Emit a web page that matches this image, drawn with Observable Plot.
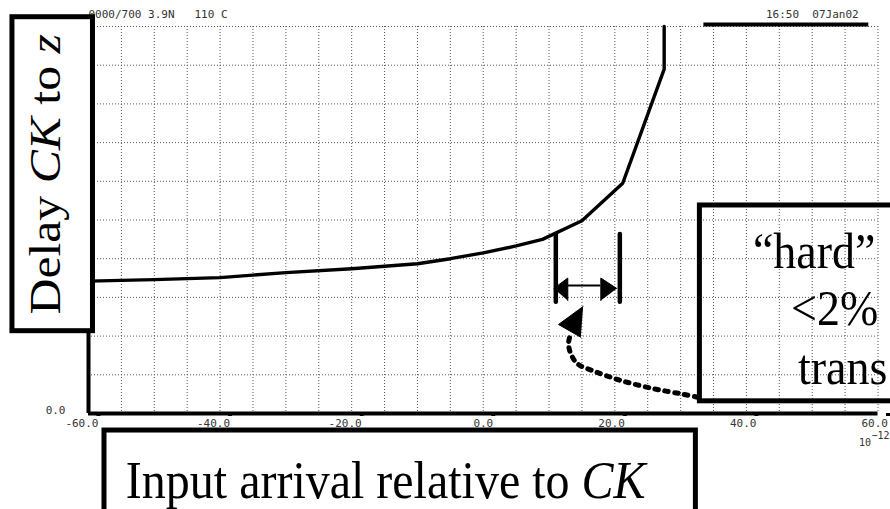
<!DOCTYPE html>
<html><head><meta charset="utf-8">
<script src="https://cdn.jsdelivr.net/npm/d3@7"></script>
<script src="https://cdn.jsdelivr.net/npm/@observablehq/plot@0.6"></script>
<style>
html,body{margin:0;padding:0;background:#fff;overflow:hidden}
svg text{white-space:pre}
</style>
</head><body><div id="chart"></div>
<script>
// ---- data (x in 10^-12 s, y in grid divisions) ----
const arrival = [-60, -50, -40, -30, -20, -10, -5, 0, 5, 9, 15, 21.2, 27.5, 27.5];
const delay   = [3.42, 3.46, 3.51, 3.64, 3.74, 3.87, 4.00, 4.15, 4.33, 4.50, 4.98, 5.95, 8.9, 10.0];
const xTicks = [-60, -40, -20, 0, 20, 40, 60];
const yTicks = [0];
const xGrid = [-55, -50, -45, -40, -35, -30, -25, -20, -15, -10, -5, 0, 5, 10, 15, 20, 25, 30, 35, 40, 45, 50, 55, 60];
const yGrid = [1, 2, 3, 4, 5, 6, 7, 8, 9, 10];
const headerLeft = "0000/700 3.9N   110 C";
const headerRight = "16:50  07Jan02";
const unitBase = "10";
const unitExp = "\u221212";
const yLabelParts = [["Delay ", false], ["CK", true], [" to ", false], ["z", true]];
const xLabelParts = [["Input arrival relative to ", false], ["CK", true]];
const noteLines = ["\u201chard\u201d", "<2%", "trans"];

// ---- annotation geometry (in data units) ----
const setupBars = [11.03, 20.76];
const setupBarY = [2.876, 4.625];
const spanArrowY = 3.307;
const spanArrowX = [12.85, 17.87];
const arrowHeads = [
  {id: "L", x: 10.72, y: 3.23}, {id: "L", x: 12.85, y: 3.50}, {id: "L", x: 12.85, y: 2.92},
  {id: "R", x: 20.30, y: 3.23}, {id: "R", x: 17.87, y: 3.50}, {id: "R", x: 17.87, y: 2.92},
  {id: "C", x: 15.18, y: 2.765}, {id: "C", x: 11.44, y: 2.30}, {id: "C", x: 14.83, y: 1.97}
];
const dashX = [32.58, 30.04, 25.98, 20.91, 16.85, 14.33, 13.31, 12.96, 13.20];
const dashY = [0.421, 0.509, 0.638, 0.853, 1.093, 1.284, 1.543, 1.801, 2.016];

const curve = arrival.map((x, i) => ({x, y: delay[i]}));
const dashPts = dashX.map((x, i) => ({x, y: dashY[i]}));
const serif = "'Liberation Serif','Times New Roman',serif";
const mono = "'DejaVu Sans Mono','Liberation Mono',monospace";
const plain = parts => parts.map(p => p[0]).join("");

const grid = {stroke: "#555", strokeOpacity: 1, strokeWidth: 1, strokeDasharray: "1,2"};

const chart = Plot.plot({
  width: 890, height: 509,
  marginTop: 26, marginRight: 12.5, marginBottom: 96, marginLeft: 88,
  x: {domain: [-60, 60]},
  y: {domain: [0, 10]},
  style: {background: "white", overflow: "hidden"},
  marks: [
    Plot.gridX(xGrid, grid),
    Plot.gridY(yGrid, grid),
    Plot.ruleX([-60], {strokeWidth: 4}),
    Plot.ruleY([0], {strokeWidth: 4}),
    Plot.axisX(xTicks, {anchor: "bottom", tickSize: 3, tickPadding: 3, strokeWidth: 4,
      tickFormat: d => d.toFixed(1), textAnchor: "end", dx: 10,
      fontFamily: mono, fontSize: 11, fill: "#333", label: null}),
    Plot.axisY(yTicks, {anchor: "left", tickSize: 0, tickPadding: 23,
      tickFormat: d => d.toFixed(1), lineAnchor: "bottom",
      fontFamily: mono, fontSize: 11, fill: "#333", label: null}),
    // header texts and bar
    Plot.text([headerLeft], {x: -60, y: 10.21, text: d => d, textAnchor: "start", lineAnchor: "bottom", fontFamily: mono, fontSize: 11, fill: "#333"}),
    Plot.text([headerRight], {x: 42.97, y: 10.23, text: d => d, textAnchor: "start", lineAnchor: "bottom", fontFamily: mono, fontSize: 11, fill: "#333"}),
    Plot.ruleY([10.05], {x1: 33.54, x2: 58.6, strokeWidth: 4}),
    Plot.text([unitBase], {x: 57.1, y: -0.85, text: d => d, textAnchor: "start", lineAnchor: "bottom", fontFamily: mono, fontSize: 10, fill: "#333"}),
    Plot.text([unitExp], {x: 59.0, y: -0.66, text: d => d, textAnchor: "start", lineAnchor: "bottom", fontFamily: mono, fontSize: 10, fill: "#333"}),
    // curve
    Plot.line(curve, {x: "x", y: "y", strokeWidth: 3.4, stroke: "black"}),
    // setup window annotation
    Plot.ruleX(setupBars, {y1: setupBarY[0], y2: setupBarY[1], strokeWidth: 4.5, strokeLinecap: "round"}),
    Plot.ruleY([spanArrowY], {x1: spanArrowX[0], x2: spanArrowX[1], strokeWidth: 2.2}),
    Plot.line(arrowHeads, {x: "x", y: "y", z: "id", fill: "black", stroke: "black", strokeWidth: 1}),
    Plot.line(dashPts, {x: "x", y: "y", curve: "catmull-rom", strokeWidth: 5, strokeDasharray: "3.5,6.5", strokeLinecap: "round"}),
    // boxes
    Plot.rect([0], {x1: 32.93, x2: 64, y1: 0.315, y2: 5.375, fill: "none", stroke: "black", strokeWidth: 5}),
    Plot.text([noteLines[0]], {x: 40.99, y: 3.747, text: d => d, textAnchor: "start", lineAnchor: "bottom", fontFamily: serif, fontSize: 46, fill: "black"}),
    Plot.text([noteLines[1]], {x: 46.77, y: 2.274, text: d => d, textAnchor: "start", lineAnchor: "bottom", fontFamily: serif, fontSize: 46, fill: "black"}),
    Plot.text([noteLines[2]], {x: 47.83, y: 0.775, text: d => d, textAnchor: "start", lineAnchor: "bottom", fontFamily: serif, fontSize: 46, fill: "black"}),
    Plot.rect([0], {x1: -71.56, x2: -59.32, y1: 2.127, y2: 10.24, fill: "white", stroke: "black", strokeWidth: 5}),
    Plot.text([plain(yLabelParts)], {x: -64.26, y: 6.18, text: d => d, rotate: -90, textAnchor: "middle", lineAnchor: "bottom", fontFamily: serif, fontSize: 44, fill: "black"}),
    Plot.rect([0], {x1: -57.57, x2: 32.32, y1: -0.44, y2: -3.2, fill: "white", stroke: "black", strokeWidth: 5}),
    Plot.text([plain(xLabelParts)], {x: -14.83, y: -2.171, text: d => d, textAnchor: "middle", lineAnchor: "bottom", fontFamily: serif, fontSize: 48, fill: "black"})
  ]
});

function findText(full) {
  return d3.select(chart).selectAll("text").filter(function() { return this.textContent === full; });
}
function richify(parts) {
  findText(plain(parts)).each(function() {
    const t = d3.select(this);
    t.text(null);
    parts.forEach(([s, it]) => t.append("tspan").attr("font-style", it ? "italic" : null).text(s));
  });
}
function stretch(full, sx, sy) {
  findText(full).each(function() {
    const tr = this.getAttribute("transform") || "";
    this.setAttribute("transform", tr + ` scale(${sx},${sy})`);
  });
}
stretch(plain(yLabelParts), 1.13, 1);
stretch(plain(xLabelParts), 1, 1.08);
noteLines.forEach(s => stretch(s, 1, 1.1));
richify(yLabelParts);
richify(xLabelParts);
document.getElementById("chart").append(chart);
</script>
</body></html>
